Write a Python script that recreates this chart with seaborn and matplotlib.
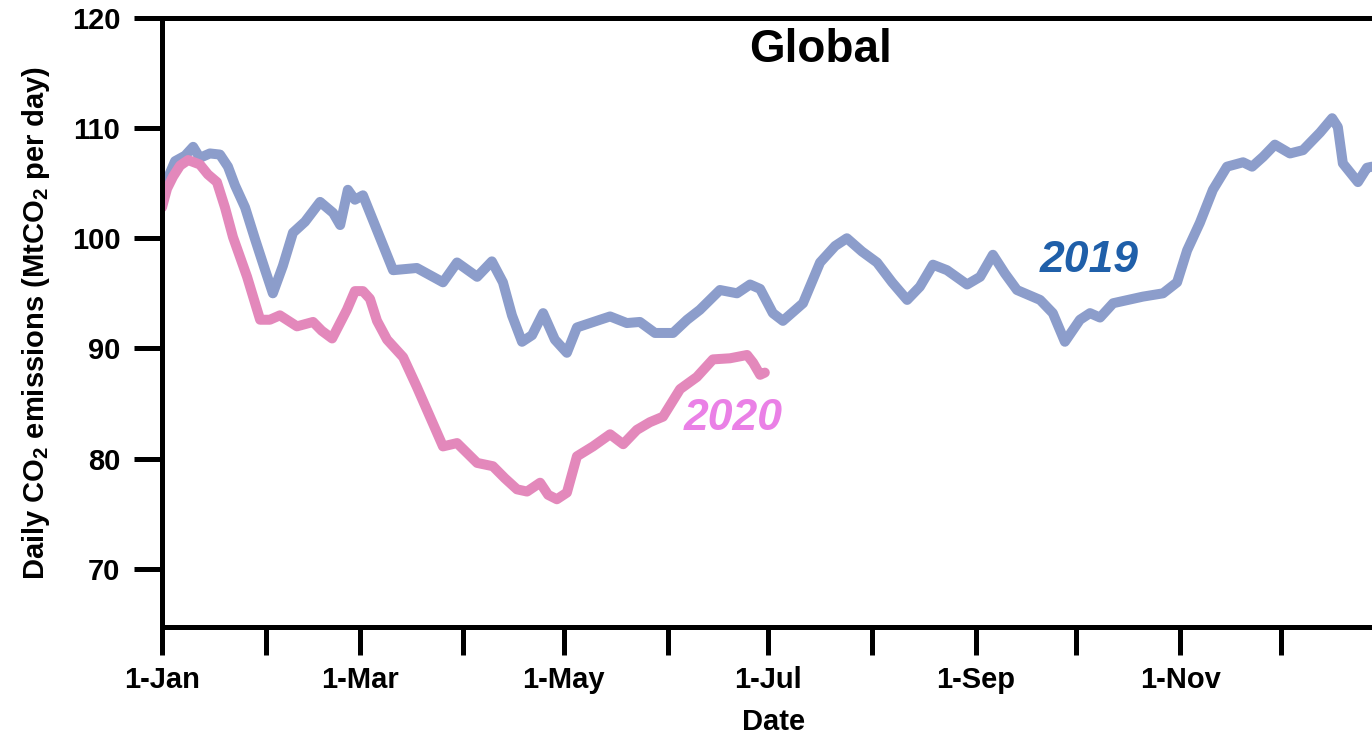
import matplotlib
matplotlib.use("Agg")
import matplotlib.pyplot as plt
import seaborn as sns
import pandas as pd
import numpy as np

# ---- data (day of year, MtCO2 per day) ----
days_2019 = [0, 1.8, 3.9, 6.9, 9.3, 11.3, 14.3, 17.3, 19.7, 21.8, 24.8, 27.8, 30.8, 33.1,
             36.1, 39.1, 42.7, 47.2, 51.1, 53.2, 55.5, 57.6, 60.0, 64.5, 69.0, 76.1, 83.9,
             88.1, 94.1, 98.5, 101.8, 104.5, 107.5, 110.5, 113.8, 117.3, 120.9, 123.9,
             130.8, 133.8, 138.8, 142.7, 147.2, 152.6, 156.8, 160.6, 166.6, 171.7, 175.6,
             178.6, 182.4, 185.4, 191.4, 196.5, 201.0, 204.5, 209.0, 213.5, 218.0, 222.5,
             226.3, 230.2, 234.4, 240.4, 244.3, 248.1, 251.7, 255.3, 262.2, 266.0, 269.6,
             274.1, 277.1, 280.1, 284.0, 292.9, 298.9, 303.1, 306.1, 309.9, 313.8, 318.0,
             322.8, 325.5, 328.8, 332.3, 336.8, 340.7, 345.8, 349.4, 351.1, 352.6, 357.1,
             359.8, 361.3]
vals_2019 = [103.5, 105.5, 107.0, 107.5, 108.3, 107.3, 107.7, 107.6, 106.5, 104.8, 102.8,
             99.9, 97.1, 95.0, 97.5, 100.5, 101.5, 103.3, 102.3, 101.2, 104.4, 103.5, 103.9,
             100.5, 97.1, 97.3, 96.0, 97.8, 96.5, 97.9, 96.0, 93.0, 90.6, 91.2, 93.2, 90.8,
             89.6, 91.9, 92.6, 92.9, 92.3, 92.4, 91.4, 91.4, 92.6, 93.5, 95.3, 95.0, 95.8,
             95.4, 93.2, 92.5, 94.1, 97.8, 99.3, 100.0, 98.8, 97.8, 96.0, 94.4, 95.6, 97.6,
             97.1, 95.8, 96.5, 98.5, 96.8, 95.3, 94.4, 93.2, 90.6, 92.6, 93.2, 92.8, 94.1,
             94.7, 95.0, 96.0, 98.9, 101.4, 104.4, 106.5, 106.9, 106.5, 107.4, 108.5, 107.7,
             108.0, 109.6, 110.9, 110.1, 106.8, 105.1, 106.4, 106.5]

days_2020 = [0, 1.5, 3.3, 5.4, 7.8, 11.3, 13.7, 16.4, 18.8, 21.2, 25.4, 29.3, 32.2, 35.2,
             40.3, 45.1, 47.7, 50.8, 55.2, 57.6, 60.0, 62.1, 64.2, 67.2, 72.0, 76.1, 80.0,
             83.9, 88.1, 94.1, 98.8, 102.4, 106.0, 109.0, 112.9, 115.3, 117.9, 120.9, 123.9,
             128.7, 133.8, 137.7, 141.8, 145.7, 149.6, 154.7, 159.7, 164.5, 169.6, 174.7,
             176.5, 178.6, 180.0]
vals_2020 = [102.8, 104.5, 105.6, 106.6, 107.1, 106.7, 105.8, 105.1, 102.8, 100.1, 96.5,
             92.6, 92.6, 93.0, 92.0, 92.4, 91.6, 90.9, 93.5, 95.2, 95.2, 94.5, 92.5, 90.8,
             89.2, 86.5, 83.8, 81.1, 81.4, 79.6, 79.3, 78.2, 77.2, 77.0, 77.8, 76.7, 76.3,
             76.9, 80.2, 81.1, 82.2, 81.3, 82.6, 83.3, 83.8, 86.3, 87.4, 89.0, 89.1, 89.4,
             88.7, 87.6, 87.8]

month_starts = [0, 31, 59, 90, 120, 151, 181, 212, 243, 273, 304, 334]
month_labels = ["1-Jan", "", "1-Mar", "", "1-May", "", "1-Jul", "", "1-Sep", "", "1-Nov", ""]
y_ticks = [70, 80, 90, 100, 110, 120]

c2019 = "#8c9dcb"
c2020 = "#e388bb"

sns.set_style("white")
plt.rcParams['font.family'] = ['Liberation Sans', 'DejaVu Sans']
plt.rcParams['font.weight'] = 'bold'
plt.rcParams['text.color'] = 'black'
plt.rcParams['axes.labelcolor'] = 'black'
plt.rcParams['mathtext.fontset'] = 'custom'
plt.rcParams['mathtext.rm'] = 'Liberation Sans:bold'
plt.rcParams['mathtext.it'] = 'Liberation Sans:bold:italic'
plt.rcParams['mathtext.bf'] = 'Liberation Sans:bold'

df19 = pd.DataFrame({"day": days_2019, "value": vals_2019})
df20 = pd.DataFrame({"day": days_2020, "value": vals_2020})

fig = plt.figure(figsize=(13.72, 7.39), dpi=100)
ax = fig.add_axes([162 / 1372, 1 - 627 / 739, 1 - 162 / 1372 + 0.01, (627 - 18) / 739])

sns.lineplot(data=df19, x="day", y="value", ax=ax, color=c2019, lw=7.2,
             solid_joinstyle="round", solid_capstyle="round")
sns.lineplot(data=df20, x="day", y="value", ax=ax, color=c2020, lw=7.2,
             solid_joinstyle="round", solid_capstyle="round")

ax.set_xlim(0, 365.4)
ax.set_ylim(64.7, 120)
ax.set_xticks(month_starts)
ax.set_xticklabels(month_labels)
ax.set_yticks(y_ticks)

for s in ["left", "bottom", "top"]:
    ax.spines[s].set_linewidth(3.6)
    ax.spines[s].set_color("black")
ax.spines["right"].set_visible(False)

ax.tick_params(axis="both", which="major", direction="out", length=20, width=3.6,
               color="black", labelsize=21, labelcolor="black")
ax.tick_params(axis="y", pad=10)
ax.tick_params(axis="x", pad=8)
ax.tick_params(axis="both", left=True, bottom=True)

ax.set_xlabel("Date", fontsize=21, fontweight="bold", labelpad=10, color="black")
ax.set_ylabel("Daily CO$_2$ emissions (MtCO$_2$ per day)", fontsize=21,
              fontweight="bold", labelpad=14, color="black")

ax.text(196.5, 117.1, "Global", fontsize=33, fontweight="bold", ha="center",
        va="center", color="black")
ax.text(277, 98.0, "2019", fontsize=32, fontweight="bold", style="italic",
        ha="center", va="center", color="#1f5fa9")
ax.text(170.5, 83.6, "2020", fontsize=32, fontweight="bold", style="italic",
        ha="center", va="center", color="#ea80e6")

fig.savefig("out.png", dpi=100)
